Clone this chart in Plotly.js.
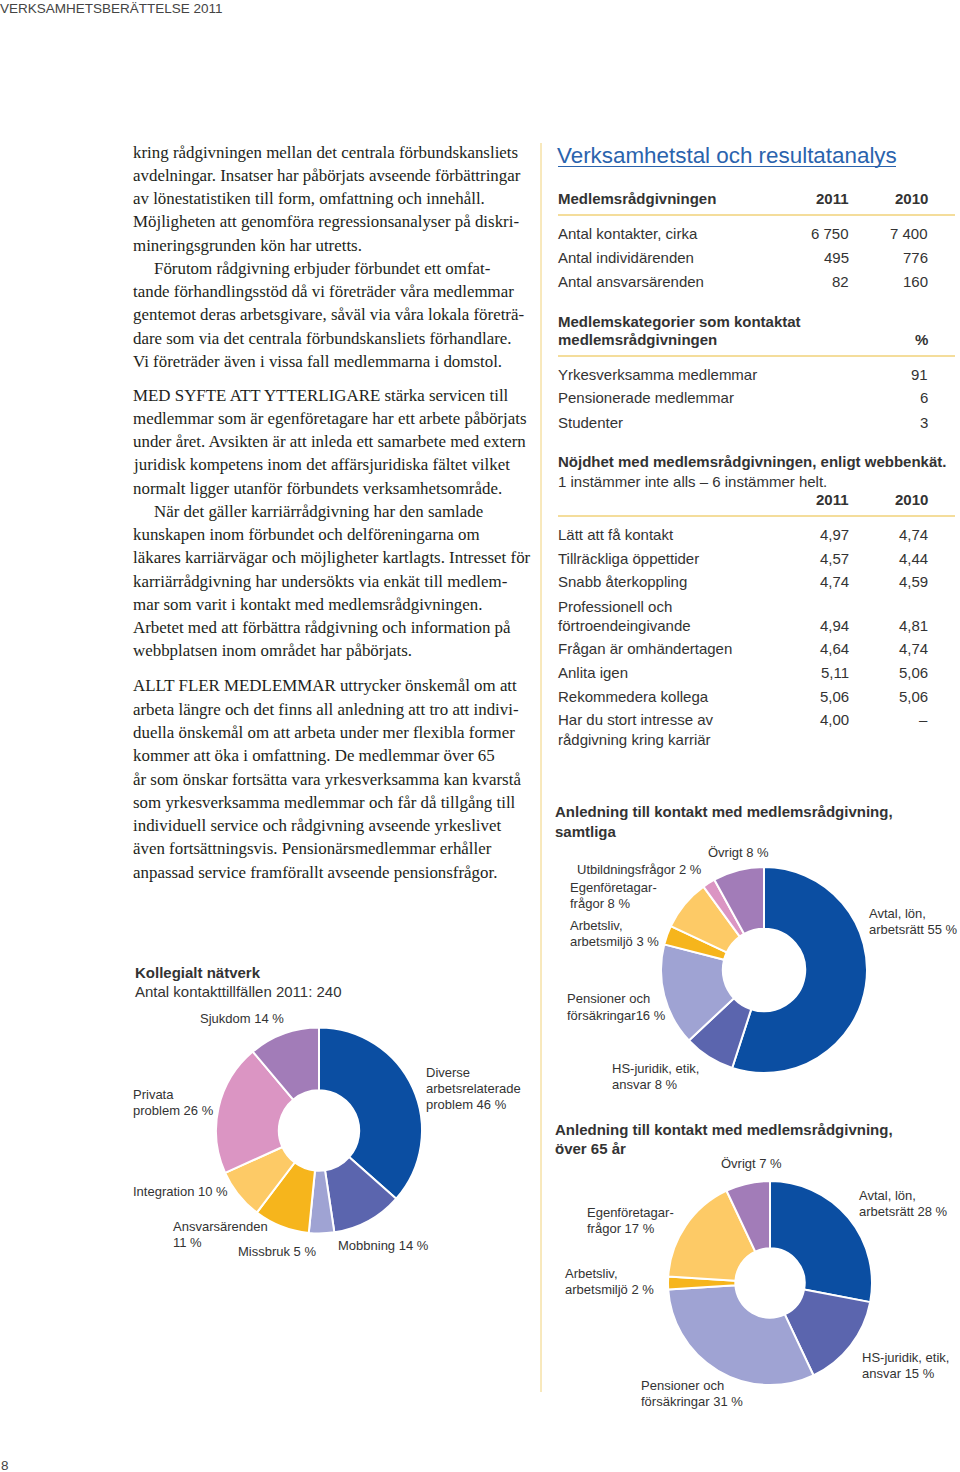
<!DOCTYPE html>
<html><head><meta charset="utf-8">
<script src="https://cdn.plot.ly/plotly-3.0.1.min.js"></script>
<style>html,body{margin:0;padding:0;background:#fff}#page{width:960px;height:1472px}</style>
</head><body><div id="page"></div>
<script>
// ---------- DATA ----------
const samtligaLabels = ['Avtal, lön,<br>arbetsrätt','HS-juridik, etik,<br>ansvar','Pensioner och<br>försäkringar','Arbetsliv,<br>arbetsmiljö','Egenföretagar-<br>frågor','Utbildningsfrågor','Övrigt'];
const samtligaValues = [55, 8, 16, 3, 8, 2, 8];

const over65Labels = ['Avtal, lön,<br>arbetsrätt','HS-juridik, etik,<br>ansvar','Pensioner och<br>försäkringar','Arbetsliv,<br>arbetsmiljö','Egenföretagar-<br>frågor','Övrigt'];
const over65Values = [28, 15, 31, 2, 17, 7];

const natverkLabels = ['Diverse<br>arbetsrelaterade<br>problem','Mobbning','Missbruk','Ansvarsärenden','Integration','Privata<br>problem','Sjukdom'];
const natverkValues = [46, 14, 5, 11, 10, 26, 14];
const natverkTotal = 240;

const radgivningRows = ['Antal kontakter, cirka','Antal individärenden','Antal ansvarsärenden'];
const radgivning2011 = [6750, 495, 82];
const radgivning2010 = [7400, 776, 160];

const kategoriRows = ['Yrkesverksamma medlemmar','Pensionerade medlemmar','Studenter'];
const kategoriPct = [91, 6, 3];

const nojdhetRows = ['Lätt att få kontakt','Tillräckliga öppettider','Snabb återkoppling','Professionell och<br>förtroendeingivande','Frågan är omhändertagen','Anlita igen','Rekommedera kollega','Har du stort intresse av<br>rådgivning kring karriär'];
const nojdhet2011 = [4.97, 4.57, 4.74, 4.94, 4.64, 5.11, 5.06, 4.00];
const nojdhet2010 = [4.74, 4.44, 4.59, 4.81, 4.74, 5.06, 5.06, null];

const bodyA = [
 'kring rådgivningen mellan det centrala förbundskansliets',
 'avdelningar. Insatser har påbörjats avseende förbättringar',
 'av lönestatistiken till form, omfattning och innehåll.',
 'Möjligheten att genomföra regressionsanalyser på diskri-',
 'mineringsgrunden kön har utretts.',
 '\tFörutom rådgivning erbjuder förbundet ett omfat-',
 'tande förhandlingsstöd då vi företräder våra medlemmar',
 'gentemot deras arbetsgivare, såväl via våra lokala företrä-',
 'dare som via det centrala förbundskansliets förhandlare.',
 'Vi företräder även i vissa fall medlemmarna i domstol.'];
const bodyB = [
 'MED SYFTE ATT YTTERLIGARE stärka servicen till',
 'medlemmar som är egenföretagare har ett arbete påbörjats',
 'under året. Avsikten är att inleda ett samarbete med extern',
 'juridisk kompetens inom det affärsjuridiska fältet vilket',
 'normalt ligger utanför förbundets verksamhetsområde.',
 '\tNär det gäller karriärrådgivning har den samlade',
 'kunskapen inom förbundet och delföreningarna om',
 'läkares karriärvägar och möjligheter kartlagts. Intresset för',
 'karriärrådgivning har undersökts via enkät till medlem-',
 'mar som varit i kontakt med medlemsrådgivningen.',
 'Arbetet med att förbättra rådgivning och information på',
 'webbplatsen inom området har påbörjats.'];
const bodyC = [
 'ALLT FLER MEDLEMMAR uttrycker önskemål om att',
 'arbeta längre och det finns all anledning att tro att indivi-',
 'duella önskemål om att arbeta under mer flexibla former',
 'kommer att öka i omfattning. De medlemmar över 65',
 'år som önskar fortsätta vara yrkesverksamma kan kvarstå',
 'som yrkesverksamma medlemmar och får då tillgång till',
 'individuell service och rådgivning avseende yrkeslivet',
 'även fortsättningsvis. Pensionärsmedlemmar erhåller',
 'anpassad service framförallt avseende pensionsfrågor.'];

// ---------- STYLE / LAYOUT ----------
const W = 960, H = 1472;
const SANS = 'Liberation Sans, Arial, sans-serif';
const SERIF = 'Liberation Serif, Times New Roman, serif';
const TXT = '#333333';
const BODY = '#231f20';
const RULE = '#f1d27a';
const C = {blue:'#0b4ea2', mid:'#5b65ae', lav:'#9fa3d3', orange:'#f6b51c', yellow:'#fdca66', pink:'#db95c3', purple:'#a27cb8'};

const px = x => x / W, py = y => 1 - y / H;
const annotations = [];
const shapes = [];
function T(text, x, y, o = {}) {
  annotations.push({text, x: px(x), y: py(y), xref:'paper', yref:'paper', showarrow:false,
    xanchor: o.anchor || 'left', yanchor:'middle', align: o.anchor || 'left',
    borderpad:0, borderwidth:0,
    font:{family: o.family || SANS, size: o.size || 15, color: o.color || TXT}});
}
function hline(x0, x1, y, color, w) {
  shapes.push({type:'line', xref:'paper', yref:'paper', x0:px(x0), x1:px(x1), y0:py(y), y1:py(y), line:{color, width:w}});
}
function vline(x, y0, y1, color, w) {
  shapes.push({type:'line', xref:'paper', yref:'paper', x0:px(x), x1:px(x), y0:py(y0), y1:py(y1), line:{color, width:w}});
}
const fmtInt = n => String(n).replace(/\B(?=(\d{3})+(?!\d))/g, ' ');
const fmtDec = n => n === null ? '–' : n.toFixed(2).replace('.', ',');

// page header / footer
T('VERKSAMHETSBERÄTTELSE 2011', 0, 9, {size:13.5, color:'#444'});
T('8', 1, 1465, {size:13.5, color:'#444'});

// body text
function body(lines, y0) {
  lines.forEach((l, i) => {
    const ind = l.startsWith('\t');
    T(ind ? l.slice(1) : l, ind ? 154 : 133, y0 + i * 23.27, {family: SERIF, size: 16.9, color: BODY});
  });
}
body(bodyA, 152); body(bodyB, 395); body(bodyC, 686);

// column divider
vline(541, 143, 1392, RULE, 1);

// right column title
T('Verksamhetstal och resultatanalys', 557, 155, {size: 22.4, color:'#2a63ad'});
hline(558, 896, 166.5, '#2a63ad', 1);

// table 1
const c1 = 849, c2 = 928;
T('<b>Medlemsrådgivningen</b>', 558, 199);
T('<b>2011</b>', c1, 199, {anchor:'right'}); T('<b>2010</b>', c2, 199, {anchor:'right'});
hline(558, 955, 215, RULE, 1.5);
radgivningRows.forEach((r, i) => {
  const y = 233 + i * 24;
  T(r, 558, y); T(fmtInt(radgivning2011[i]), c1, y, {anchor:'right'}); T(fmtInt(radgivning2010[i]), c2, y, {anchor:'right'});
});

// table 2
T('<b>Medlemskategorier som kontaktat</b>', 558, 321);
T('<b>medlemsrådgivningen</b>', 558, 340);
T('<b>%</b>', c2, 340, {anchor:'right'});
hline(558, 955, 356, RULE, 1.5);
kategoriRows.forEach((r, i) => {
  const y = 374 + i * 24;
  T(r, 558, y); T(String(kategoriPct[i]), c2, y, {anchor:'right'});
});

// table 3
T('<b>Nöjdhet med medlemsrådgivningen, enligt webbenkät.</b>', 558, 462);
T('1 instämmer inte alls – 6 instämmer helt.', 558, 481);
T('<b>2011</b>', c1, 499, {anchor:'right'}); T('<b>2010</b>', c2, 499, {anchor:'right'});
hline(558, 955, 516, RULE, 1.5);
const rowY = [534, 558, 582, 606, 648, 672, 696, 720];
const valueLine = [0, 0, 0, 1, 0, 0, 0, 0];
nojdhetRows.forEach((r, i) => {
  const parts = r.split('<br>');
  parts.forEach((p, k) => T(p, 558, rowY[i] + k * 19));
  const vy = rowY[i] + valueLine[i] * 19;
  T(fmtDec(nojdhet2011[i]), c1, vy, {anchor:'right'});
  T(fmtDec(nojdhet2010[i]), c2, vy, {anchor:'right'});
});

// chart headings
T('<b>Anledning till kontakt med medlemsrådgivning,</b>', 555, 812);
T('<b>samtliga</b>', 555, 831);
T('<b>Anledning till kontakt med medlemsrådgivning,</b>', 555, 1129);
T('<b>över 65 år</b>', 555, 1148);
T('<b>Kollegialt nätverk</b>', 135, 972);
T('Antal kontakttillfällen 2011: ' + natverkTotal, 135, 991);

// donuts
function donut(labels, values, colors, cx, cy, r, hole, seps, pos) {
  labels.forEach((l, i) => {
    const txt = l + (seps[i] !== undefined ? seps[i] : ' ') + values[i] + ' %';
    txt.split('<br>').forEach((line, k) => T(line, pos[i][0], pos[i][1] + k * 16, {size: 13}));
  });
  return {type:'pie', labels: labels.map(s => s.replace(/<br>/g, ' ')), values, sort:false,
    direction:'clockwise', rotation:0, hole, textinfo:'none', hoverinfo:'skip', showlegend:false,
    marker:{colors, line:{color:'#ffffff', width:2}},
    domain:{x:[px(cx - r), px(cx + r)], y:[py(cy + r), py(cy - r)]}};
}
const traces = [
  donut(samtligaLabels, samtligaValues, [C.blue, C.mid, C.lav, C.orange, C.yellow, C.pink, C.purple],
    764, 970, 103, 0.40, [' ', ' ', '', ' ', ' ', ' ', ' '],
    [[869, 913], [612, 1068], [567, 999], [570, 925], [570, 887], [577, 869], [708, 852]]),
  donut(over65Labels, over65Values, [C.blue, C.mid, C.lav, C.orange, C.yellow, C.purple],
    770, 1283, 102, 0.34, [],
    [[859, 1195], [862, 1357], [641, 1385], [565, 1273], [587, 1212], [721, 1163]]),
  donut(natverkLabels, natverkValues, [C.blue, C.mid, C.lav, C.orange, C.yellow, C.pink, C.purple],
    319, 1130.5, 103, 0.39, [' ', ' ', ' ', '<br>', ' ', ' ', ' '],
    [[426, 1072], [338, 1245], [238, 1251], [173, 1226], [133, 1191], [133, 1094], [200, 1018]])
];

Plotly.newPlot('page', traces, {
  width: W, height: H, margin:{l:0, r:0, t:0, b:0},
  paper_bgcolor:'#ffffff', plot_bgcolor:'#ffffff', showlegend:false,
  annotations, shapes
}, {staticPlot:true, displayModeBar:false});
</script></body></html>
